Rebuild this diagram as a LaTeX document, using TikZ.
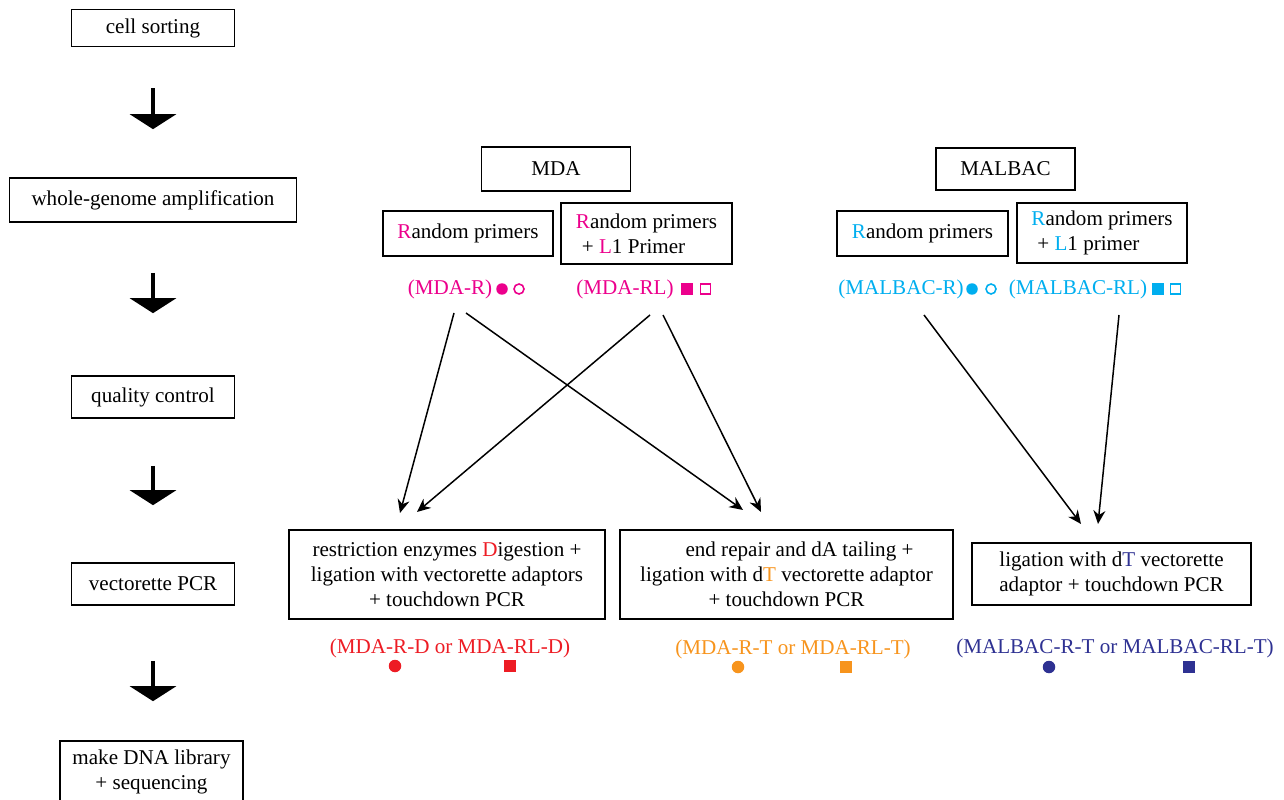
\documentclass[tikz,border=0pt]{standalone}
\usepackage{fontspec}
\setmainfont{Liberation Serif}
\usetikzlibrary{arrows.meta,positioning}
\definecolor{mdapink}{RGB}{236,0,140}
\definecolor{mbcyan}{RGB}{0,174,239}
\definecolor{digred}{RGB}{237,28,36}
\definecolor{tailorange}{RGB}{247,148,29}
\definecolor{ligblue}{RGB}{46,49,146}
\tikzset{%
	stepbox/.style = {draw, line width=0.95pt, inner sep=0pt, align=center, font=\fontsize{12}{14.2}\selectfont},
	tag/.style     = {inner sep=0pt, font=\fontsize{12}{14.2}\selectfont},
	bigarrow/.style= {line width=2.3pt, -{Triangle[width=0.92cm,length=0.3cm]}},
	arrow/.style   = {line width=0.85pt, -{Stealth[length=0.27cm,width=0.24cm]}},
	dot/.style     = {circle, inner sep=0pt, minimum size=#1},
	sq/.style      = {rectangle, inner sep=0pt, minimum size=#1},
}

\begin{document}
\begin{tikzpicture}[x=0.02cm,y=-0.02cm]
	\useasboundingbox (0,0) rectangle (1284,800);
	% workflow on the left
	\node[stepbox, minimum width=3.26cm, minimum height=0.74cm] (cell) at (153,28) {cell sorting};
	\node[stepbox, minimum width=5.74cm, minimum height=0.88cm] (wga) at (153,200) {whole-genome amplification};
	\node[stepbox, minimum width=3.26cm, minimum height=0.84cm] (qc) at (153,397) {quality control};
	\node[stepbox, minimum width=3.26cm, minimum height=0.84cm] (vpcr) at (153,584) {vectorette PCR};
	\node[stepbox, minimum width=3.66cm, minimum height=1.24cm] (lib) at (151.5,772) {make DNA library\\+ sequencing};
	\draw[bigarrow, shorten <=0.82cm, shorten >=0.96cm] (cell) -- (wga);
	\draw[bigarrow, shorten <=1.0cm, shorten >=1.24cm] (wga) -- (qc);
	\draw[bigarrow, shorten <=0.94cm, shorten >=1.14cm] (qc) -- (vpcr);
	\draw[bigarrow, shorten <=1.1cm, shorten >=0.78cm] (vpcr) -- (lib.north -| vpcr.south);
	% amplification methods
	\node[stepbox, minimum width=2.98cm, minimum height=0.88cm] (mda) at (556,169) {MDA};
	\node[stepbox, minimum width=2.78cm, minimum height=0.84cm] (malbac) at (1005.5,169) {MALBAC};
	\node[stepbox, minimum width=3.4cm, minimum height=0.9cm] (mdaR) at (468,233.5) {\textcolor{mdapink}{R}andom primers};
	\node[stepbox, minimum width=3.42cm, minimum height=1.22cm, align=left] (mdaRL) at (646.5,233.5) {\textcolor{mdapink}{R}andom primers\\\hspace*{0.12cm}+ \textcolor{mdapink}{L}1 Primer};
	\node[stepbox, minimum width=3.42cm, minimum height=0.9cm] (mbR) at (922.5,233.5) {\textcolor{mbcyan}{R}andom primers};
	\node[stepbox, minimum width=3.4cm, minimum height=1.2cm, align=left] (mbRL) at (1102,233) {\textcolor{mbcyan}{R}andom primers\\\hspace*{0.12cm}+ \textcolor{mbcyan}{L}1 primer};
	% sample names
	\node[tag, text=mdapink] (tagmdaR) at (450,289) {(MDA-R)};
	\node[dot=0.23cm, fill=mdapink] (mdaRa) at (502,289) {};
	\node[dot=0.2cm, draw=mdapink, line width=0.9pt] (mdaRb) at (519,289) {};
	\node[tag, text=mdapink] (tagmdaRL) at (625,289) {(MDA-RL)};
	\node[sq=0.23cm, fill=mdapink] (mdaRLa) at (687,289) {};
	\node[sq=0.2cm, draw=mdapink, line width=0.9pt] (mdaRLb) at (705.5,289) {};
	\node[tag, text=mbcyan] (tagmbR) at (901,289) {(MALBAC-R)};
	\node[dot=0.23cm, fill=mbcyan] (mbRa) at (972,289) {};
	\node[dot=0.2cm, draw=mbcyan, line width=0.9pt] (mbRb) at (991,289) {};
	\node[tag, text=mbcyan] (tagmbRL) at (1078,289) {(MALBAC-RL)};
	\node[sq=0.23cm, fill=mbcyan] (mbRLa) at (1158,289) {};
	\node[sq=0.2cm, draw=mbcyan, line width=0.9pt] (mbRLb) at (1175.5,289) {};
	% library preparation
	\node[stepbox, minimum width=6.32cm, minimum height=1.78cm] (dig) at (447,574.5) {restriction enzymes \textcolor{digred}{D}igestion +\\ligation with vectorette adaptors\\+ touchdown PCR};
	\node[stepbox, minimum width=6.66cm, minimum height=1.78cm] (tail) at (786.5,574.5) {\hspace*{0.52cm}end repair and dA tailing +\\ligation with d\textcolor{tailorange}{T} vectorette adaptor\\+ touchdown PCR};
	\node[stepbox, minimum width=5.58cm, minimum height=1.24cm] (lig) at (1111.5,574) {ligation with d\textcolor{ligblue}{T} vectorette\\adaptor + touchdown PCR};
	\node[tag, text=digred] (tagdig) at (450,648) {(MDA-R-D or MDA-RL-D)};
	\node[dot=0.25cm, fill=digred] (diga) at (395,666) {};
	\node[sq=0.25cm, fill=digred] (digb) at (510,666) {};
	\node[tag, text=tailorange] (tagtail) at (793,649) {(MDA-R-T or MDA-RL-T)};
	\node[dot=0.25cm, fill=tailorange] (taila) at (738,667) {};
	\node[sq=0.25cm, fill=tailorange] (tailb) at (846,667) {};
	\node[tag, text=ligblue] (taglig) at (1115,648) {(MALBAC-R-T or MALBAC-RL-T)};
	\node[dot=0.25cm, fill=ligblue] (liga) at (1049,667) {};
	\node[sq=0.25cm, fill=ligblue] (ligb) at (1189,667) {};
	% connectors
	\coordinate (s1) at (454,313);
	\coordinate (s2) at (466,313);
	\coordinate (s3) at (650,315);
	\coordinate (s4) at (663,315);
	\coordinate (s5) at (924,315);
	\coordinate (s6) at (1119,315);
	\coordinate (e1) at (400,513);
	\coordinate (e2) at (743,510);
	\coordinate (e3) at (417,512);
	\coordinate (e4) at (761,512);
	\coordinate (e5) at (1081,524);
	\coordinate (e6) at (1098,524);
	\foreach \i in {1,...,6} \draw[arrow] (s\i) -- (e\i);
\end{tikzpicture}
\end{document}
